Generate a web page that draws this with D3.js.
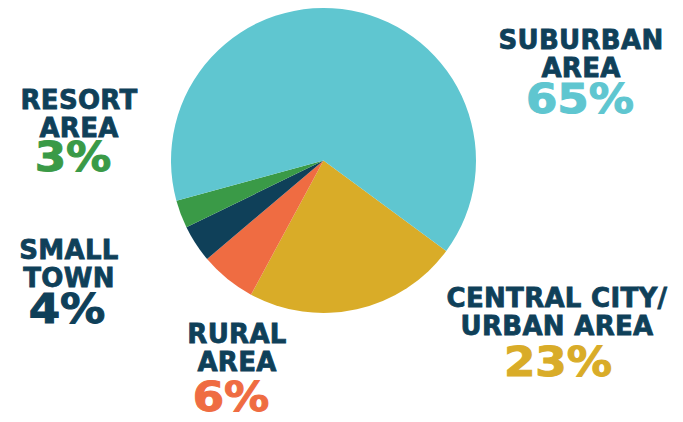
<!DOCTYPE html>
<html>
<head>
<meta charset="utf-8">
<script src="https://cdn.jsdelivr.net/npm/d3@7"></script>
<style>
  html, body { margin: 0; padding: 0; background: #ffffff; }
  svg { display: block; }
  text { font-family: "DejaVu Sans", sans-serif; font-weight: bold; }
</style>
</head>
<body>
<svg id="chart" width="683" height="422"></svg>
<script>
// Share of respondents by community type (percent)
const categories = ["Central City/Urban Area", "Rural Area", "Small Town", "Resort Area", "Suburban Area"];
const values = [23, 6, 4, 3, 65];
const labelLines = [["CENTRAL CITY/", "URBAN AREA"], ["RURAL", "AREA"], ["SMALL", "TOWN"], ["RESORT", "AREA"], ["SUBURBAN", "AREA"]];
const colors = ["#d9ac28", "#ef6c42", "#0f4059", "#3a9a47", "#5fc6d0"];

// Text block placement: centre x and first-line baseline of the name,
// centre x and baseline of the percentage
const labelPos = [
  { x: 557, y: 307, px: 558, py: 376 },
  { x: 237, y: 343, px: 231, py: 411 },
  { x: 69,  y: 259, px: 67,  py: 323 },
  { x: 79,  y: 109, px: 73,  py: 171 },
  { x: 581, y: 49,  px: 580, py: 113 }
];

const navy = "#0f4059";
const cx = 323.5, cy = 160.5, radius = 152.5;

const svg = d3.select("#chart");

const pie = d3.pie()
  .sort(null)
  .value(d => d)
  .startAngle(126.4 * Math.PI / 180)
  .endAngle(126.4 * Math.PI / 180 + 2 * Math.PI);

const arc = d3.arc().innerRadius(0).outerRadius(radius);

const g = svg.append("g").attr("transform", `translate(${cx},${cy})`);
g.selectAll("path")
  .data(pie(values))
  .join("path")
  .attr("d", arc)
  .attr("fill", (d, i) => colors[i]);

// Category names, two lines each
const names = svg.selectAll("text.name")
  .data(categories)
  .join("text")
  .attr("class", "name")
  .attr("text-anchor", "middle")
  .attr("font-size", 26)
  .attr("fill", navy)
  .attr("stroke", navy)
  .attr("stroke-width", 0.8)
  .attr("transform", (d, i) => `translate(${labelPos[i].x},${labelPos[i].y})`);

names.each(function(d, i) {
  const el = d3.select(this);
  labelLines[i].forEach((line, j) => {
    el.append("tspan")
      .attr("x", 0)
      .attr("y", j * 27.5)
      .attr("letter-spacing", 0.3)
      .text(line);
  });
});

// Percentages in the slice colour
svg.selectAll("text.pct")
  .data(values)
  .join("text")
  .attr("class", "pct")
  .attr("text-anchor", "middle")
  .attr("font-size", 40)
  .attr("fill", (d, i) => colors[i])
  .attr("stroke", (d, i) => colors[i])
  .attr("stroke-width", 1)
  .attr("transform", (d, i) => `translate(${labelPos[i].px},${labelPos[i].py}) scale(1.13,1)`)
  .text(d => d + "%");
</script>
</body>
</html>
